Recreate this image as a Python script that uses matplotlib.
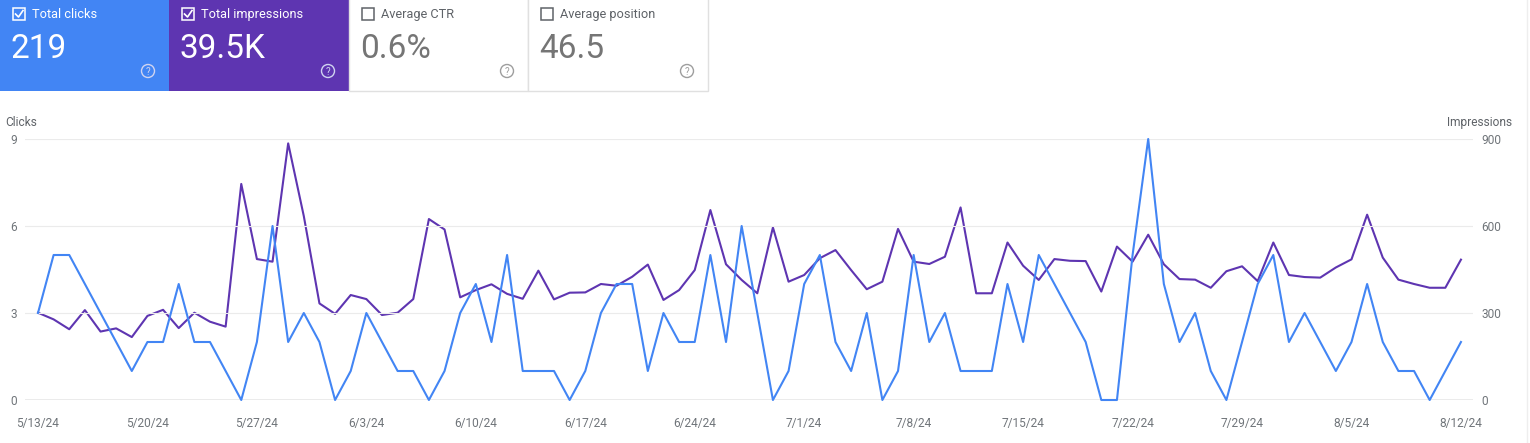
import pandas as pd
import matplotlib.pyplot as plt
from matplotlib.patches import Rectangle, Circle

plt.rcParams['font.family'] = ['Roboto', 'DejaVu Sans']

# daily values, 5/13/24 .. 8/12/24
clicks = [3, 5, 5, 4, 3, 2, 1, 2, 2, 4,
          2, 2, 1, 0, 2, 6, 2, 3, 2, 0,
          1, 3, 2, 1, 1, 0, 1, 3, 4, 2,
          5, 1, 1, 1, 0, 1, 3, 4, 4, 1,
          3, 2, 2, 5, 2, 6, 3, 0, 1, 4,
          5, 2, 1, 3, 0, 1, 5, 2, 3, 1,
          1, 1, 4, 2, 5, 4, 3, 2, 0, 0,
          5, 9, 4, 2, 3, 1, 0, 2, 4, 5,
          2, 3, 2, 1, 2, 4, 2, 1, 1, 0,
          1, 2]
impressions = [301, 278, 244, 310, 236, 247, 217, 290, 311, 248,
               301, 270, 253, 745, 486, 477, 885, 634, 333, 297,
               362, 348, 293, 301, 348, 624, 588, 354, 379, 399,
               366, 349, 446, 347, 370, 371, 400, 394, 425, 467,
               345, 379, 448, 655, 468, 414, 368, 595, 408, 431,
               489, 517, 448, 382, 408, 590, 477, 469, 494, 664,
               368, 368, 543, 463, 414, 486, 480, 479, 374, 529,
               477, 570, 468, 417, 415, 387, 444, 461, 410, 543,
               431, 424, 422, 457, 485, 639, 491, 415, 400, 387,
               387, 484]
dates = pd.date_range('2024-05-13', periods=len(clicks))
tick_labels = ['5/13/24', '5/20/24', '5/27/24', '6/3/24', '6/10/24', '6/17/24', '6/24/24',
               '7/1/24', '7/8/24', '7/15/24', '7/22/24', '7/29/24', '8/5/24', '8/12/24']

card_titles = ['Total clicks', 'Total impressions', 'Average CTR', 'Average position']
card_values = ['219', '39.5K', '0.6%', '46.5']
card_checked = [True, True, False, False]

W, H = 1530, 443
BLUE = '#4285f4'
PURPLE = '#5e35b1'

fig = plt.figure(figsize=(W / 100, H / 100), dpi=100)

# overlay in pixel coords for the metric cards
ov = fig.add_axes([0, 0, 1, 1])
ov.set_xlim(0, W)
ov.set_ylim(H, 0)
ov.axis('off')

card_x = [0, 169, 349, 528, 708]
card_bg = [BLUE, PURPLE, 'white', 'white']
for k in range(4):
    x0, x1 = card_x[k], card_x[k + 1]
    if card_checked[k]:
        ov.add_patch(Rectangle((x0, 0), x1 - x0, 91, color=card_bg[k], lw=0))
        fg, fg2, icon = 'white', 'white', '#d0d4f0'
    else:
        ov.add_patch(Rectangle((x0, -2), x1 - x0, 93, facecolor='white',
                               edgecolor='#e0e0e0', lw=1))
        fg, fg2, icon = '#5f6368', '#757575', '#9e9e9e'
    # checkbox
    ov.add_patch(Rectangle((x0 + 13, 8), 12, 12, facecolor='none', edgecolor=fg, lw=1.1))
    if card_checked[k]:
        ov.plot([x0 + 15.5, x0 + 18.5, x0 + 23], [14, 17, 10.5], color=fg, lw=1.2)
    ov.text(x0 + 32, 14, card_titles[k], color=fg, fontsize=9.2, va='center', ha='left')
    ov.text(x0 + 11, 49, card_values[k], color=fg2, fontsize=24, va='center', ha='left')
    # help icon
    ov.add_patch(Circle((x1 - 21, 71), 6.5, facecolor='none', edgecolor=icon, lw=1))
    ov.text(x1 - 21, 71.5, '?', color=icon, fontsize=7, ha='center', va='center')

ov.plot([1527, 1527], [0, H], color='#eeeeee', lw=1)

# chart
ax_l, ax_r, ax_t, ax_b = 25, 1473, 139, 400
ax = fig.add_axes([ax_l / W, 1 - ax_b / H, (ax_r - ax_l) / W, (ax_b - ax_t) / H])
ax2 = ax.twinx()

x = range(len(clicks))
ax2.plot(x, impressions, color=PURPLE, lw=1.5, clip_on=False, zorder=2)
ax.plot(x, clicks, color=BLUE, lw=1.5, clip_on=False, zorder=3)
ax.set_zorder(ax2.get_zorder() + 1)
ax.patch.set_visible(False)

ax.set_xlim(-0.83, len(clicks) - 1 + 0.77)
ax.set_ylim(0, 9)
ax2.set_ylim(0, 900)
ax.set_yticks([0, 3, 6, 9])
ax2.set_yticks([0, 300, 600, 900])

tick_pos = [i for i in x if dates[i].dayofweek == 0]
ax.set_xticks(tick_pos)
ax.set_xticklabels(tick_labels)

for a in (ax, ax2):
    for s in a.spines.values():
        s.set_visible(False)
    a.tick_params(length=0, colors='#70757a', labelsize=8.6)
ax.tick_params(axis='y', pad=6)
ax2.tick_params(axis='y', pad=6)
ax.tick_params(axis='x', pad=12)

for v in [3, 6, 9]:
    ax.axhline(v, color='#ebebeb', lw=0.8, zorder=0)
ax.axhline(0, color='#9e9e9e', lw=1, zorder=1)

ov.text(5, 122, 'Clicks', color='#5f6368', fontsize=8.6, ha='left', va='center')
ov.text(1512, 122, 'Impressions', color='#5f6368', fontsize=8.6, ha='right', va='center')

fig.savefig('out.png', dpi=100)
